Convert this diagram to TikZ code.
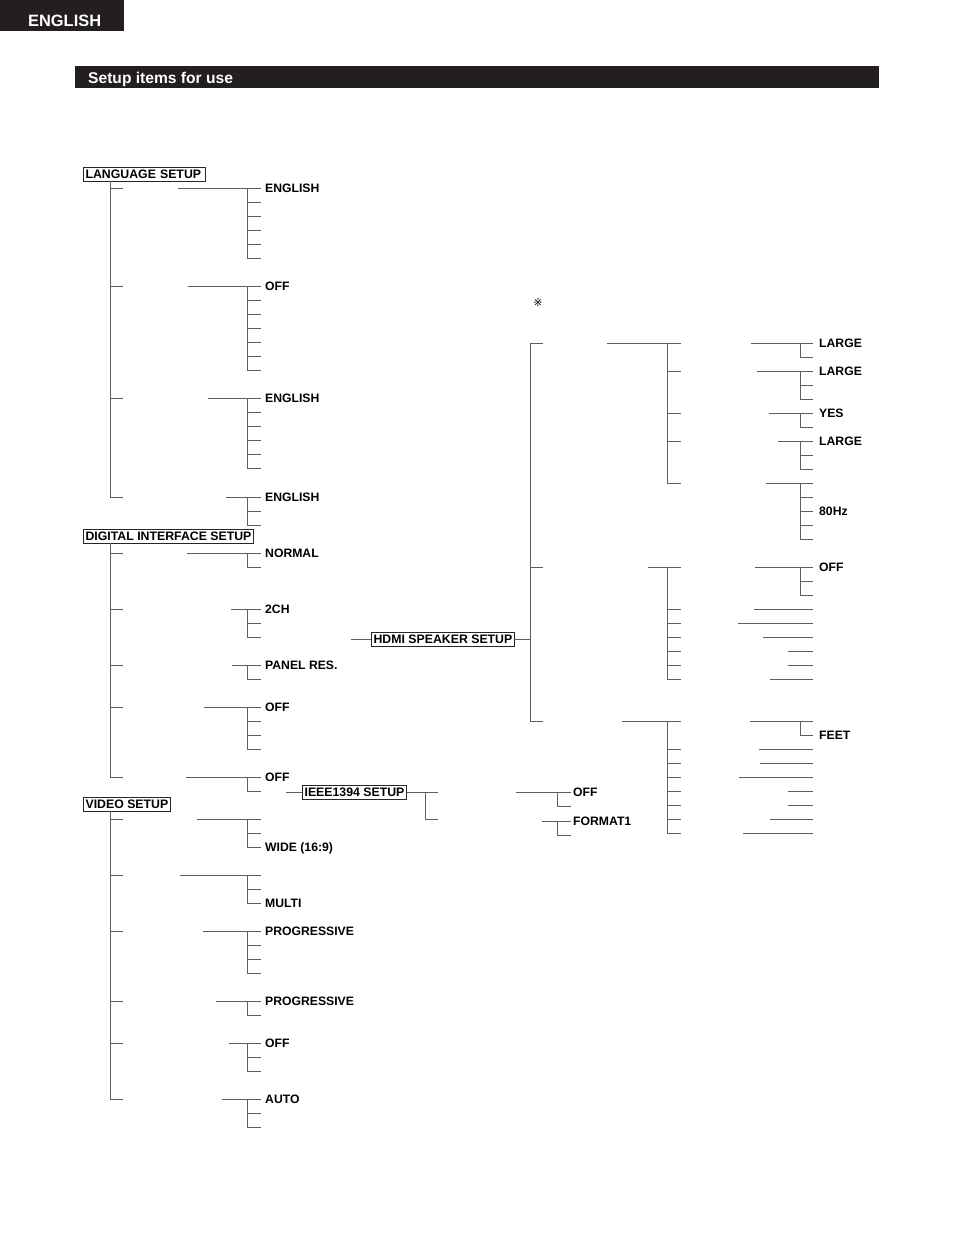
\documentclass[tikz,border=0pt]{standalone}
\usepackage{fontspec}
\setmainfont{Liberation Sans}
\newfontfamily\marksfont{DejaVu Sans}
\usetikzlibrary{positioning, calc}
\definecolor{barcolor}{RGB}{35,31,32}
\definecolor{linecolor}{RGB}{95,95,95}

\begin{document}
\begin{tikzpicture}[
    x=1pt, y=-1pt,
    tree/.style={draw=linecolor, line width=0.9pt},
    menubox/.style={rectangle, draw=black!85, line width=0.8pt, font=\bfseries\fontsize{12.3}{12.3}\selectfont,
        inner xsep=2.2pt, inner ysep=0pt, minimum height=14pt, text height=8.8pt, text depth=0pt, anchor=west},
    item/.style={font=\bfseries\fontsize{12.2}{12.2}\selectfont, inner sep=0pt, text height=8.8pt, text depth=0pt, anchor=west},
    heading/.style={text=white, font=\bfseries, inner sep=0pt, anchor=base west}
]
    \useasboundingbox (0,0) rectangle (954,1237);

    % Page tab and section bar
    \fill[barcolor] (0,0) rectangle (124,31);
    \node[heading, font=\bfseries\fontsize{16.4}{16.4}\selectfont] (tab) at (28,26) {ENGLISH};
    \fill[barcolor] (75,66) rectangle (879,88);
    \node[heading, font=\bfseries\fontsize{15.6}{15.6}\selectfont] (title) at (88,83) {Setup items for use};

    % LANGUAGE SETUP
    \node[menubox, text width=118pt] (langbox) at (83,174.5) {LANGUAGE SETUP};
    \coordinate (langtop) at (110,181);
    \draw[tree] (langtop) -- (110,497) -- (123,497);
    \foreach \xs/\yt/\yb/\txt/\yl [count=\i] in {178/188/258/ENGLISH/188, 188/286/370/OFF/286,
        208/398/468/ENGLISH/398, 226/497/525/ENGLISH/497}{
        \coordinate (langj\i) at (247,\yt);
        \draw[tree] (110,\yt) -- ++(13,0);
        \draw[tree] (\xs,\yt) -- (langj\i) -- (247,\yb);
        \pgfmathtruncatemacro{\yn}{\yt+14}
        \foreach \y in {\yt,\yn,...,\yb} \draw[tree] (247,\y) -- ++(14,0);
        \node[item] (langitem\i) at (265,\yl) {\txt};
    }

    % DIGITAL INTERFACE SETUP
    \node[menubox] (digbox) at (83,536) {DIGITAL INTERFACE SETUP};
    \coordinate (digtop) at (110,543);
    \draw[tree] (digtop) -- (110,777) -- (123,777);
    \foreach \xs/\yt/\yb/\txt/\yl [count=\i] in {187/553/567/NORMAL/553, 231/609/637/2CH/609,
        232/665/679/{PANEL RES.}/665, 204/707/749/OFF/707, 186/777/791/OFF/777}{
        \coordinate (digj\i) at (247,\yt);
        \draw[tree] (110,\yt) -- ++(13,0);
        \draw[tree] (\xs,\yt) -- (digj\i) -- (247,\yb);
        \pgfmathtruncatemacro{\yn}{\yt+14}
        \foreach \y in {\yt,\yn,...,\yb} \draw[tree] (247,\y) -- ++(14,0);
        \node[item] (digitem\i) at (265,\yl) {\txt};
    }

    % IEEE1394 SETUP
    \node[menubox] (ieeebox) at (302,792) {IEEE1394 SETUP};
    \coordinate (ieeein) at (286,792);
    \draw[tree] (ieeein) -- (ieeebox.west);
    \coordinate (ieeej) at (425,792);
    \draw[tree] (ieeebox.east) -- (438,792);
    \draw[tree] (ieeej) -- (425,819) -- (438,819);
    \foreach \xs/\yt/\yb/\txt [count=\i] in {516/792/806/OFF, 542/821/835/FORMAT1}{
        \coordinate (ieeesub\i) at (557,\yt);
        \draw[tree] (\xs,\yt) -- (ieeesub\i) -- (557,\yb);
        \draw[tree] (557,\yt) -- ++(14,0);
        \draw[tree] (557,\yb) -- ++(14,0);
        \node[item] (ieeeitem\i) at (573,\yt) {\txt};
    }

    % VIDEO SETUP
    \node[menubox] (vidbox) at (83,804.5) {VIDEO SETUP};
    \coordinate (vidtop) at (110,811);
    \draw[tree] (vidtop) -- (110,1099) -- (123,1099);
    \foreach \xs/\yt/\yb/\txt/\yl [count=\i] in {197/819/847/{WIDE (16:9)}/847, 180/875/903/MULTI/903,
        203/931/973/PROGRESSIVE/931, 216/1001/1015/PROGRESSIVE/1001, 229/1043/1071/OFF/1043,
        222/1099/1127/AUTO/1099}{
        \coordinate (vidj\i) at (247,\yt);
        \draw[tree] (110,\yt) -- ++(13,0);
        \draw[tree] (\xs,\yt) -- (vidj\i) -- (247,\yb);
        \pgfmathtruncatemacro{\yn}{\yt+14}
        \foreach \y in {\yt,\yn,...,\yb} \draw[tree] (247,\y) -- ++(14,0);
        \node[item] (viditem\i) at (265,\yl) {\txt};
    }

    % HDMI SPEAKER SETUP
    \node[menubox] (hdmibox) at (371,639) {HDMI SPEAKER SETUP};
    \coordinate (hdmiin) at (351,639);
    \coordinate (hdmij) at (530,639);
    \draw[tree] (hdmiin) -- (hdmibox.west);
    \draw[tree] (hdmibox.east) -- (hdmij);
    \draw[tree] (543,343) -- (530,343) -- (530,721) -- (543,721);
    \draw[tree] (530,567) -- (543,567);
    \node[inner sep=0pt, font=\marksfont\fontsize{11}{11}\selectfont] (note) at (538,303) {※};

    % speaker config, speaker level, distance
    \coordinate (spj1) at (667,343);
    \coordinate (spj2) at (667,567);
    \coordinate (spj3) at (667,721);
    \draw[tree] (607,343) -- (spj1) -- (667,483);
    \draw[tree] (648,567) -- (spj2) -- (667,679);
    \draw[tree] (622,721) -- (spj3) -- (667,833);
    \foreach \y in {343,371,413,441,483, 567,609,623,637,651,665,679, 721,749,763,777,791,805,819,833}
        \draw[tree] (667,\y) -- ++(14,0);

    \foreach \xs/\yt/\yb/\txt/\yl [count=\i] in {751/343/357/LARGE/343, 757/371/399/LARGE/371,
        769/413/427/YES/413, 778/441/469/LARGE/441, 766/483/539/80Hz/511, 755/567/595/OFF/567,
        750/721/735/FEET/735}{
        \coordinate (spsub\i) at (800,\yt);
        \draw[tree] (\xs,\yt) -- (spsub\i) -- (800,\yb);
        \pgfmathtruncatemacro{\yn}{\yt+14}
        \foreach \y in {\yt,\yn,...,\yb} \draw[tree] (800,\y) -- ++(13,0);
        \node[item] (spitem\i) at (819,\yl) {\txt};
    }
    \foreach \xs/\y in {754/609, 738/623, 763/637, 788/651, 788/665, 770/679,
        759/749, 760/763, 739/777, 788/791, 788/805, 770/819, 743/833}
        \draw[tree] (\xs,\y) -- (813,\y);

\end{tikzpicture}
\end{document}
